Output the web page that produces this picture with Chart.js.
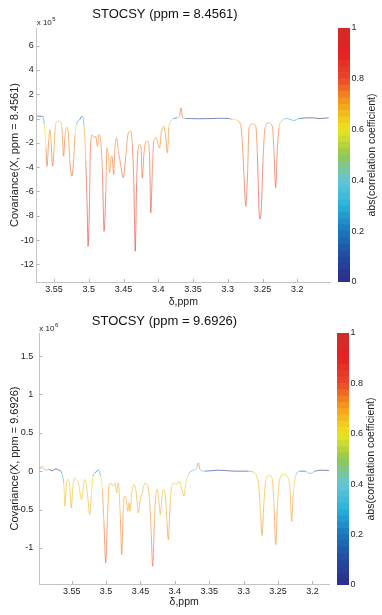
<!DOCTYPE html>
<html>
<head>
<meta charset="utf-8">
<script src="https://cdn.jsdelivr.net/npm/chart.js@4.4.1/dist/chart.umd.min.js"></script>
<style>
  html, body { margin: 0; padding: 0; background: #fff; }
  #wrap { position: relative; width: 382px; height: 615px; overflow: hidden; }
  #wrap canvas { position: absolute; }
</style>
</head>
<body>
<div id="wrap">
  <canvas id="top-spec" width="382" height="308" style="left:0;top:0"></canvas>
  <canvas id="top-cb" width="52" height="308" style="left:330px;top:0"></canvas>
  <canvas id="bot-spec" width="382" height="307" style="left:0;top:308px"></canvas>
  <canvas id="bot-cb" width="52" height="307" style="left:330px;top:308px"></canvas>
</div>
<script>
// ---- top panel: driver peak ppm = 8.4561 (covariance in units of 1e5)
const topPpm = [
  3.575, 3.5688, 3.5655, 3.5641, 3.5617, 3.5602, 3.5578, 3.5559, 3.5541, 3.5521,
  3.5502, 3.5484, 3.5449, 3.5416, 3.5388, 3.5363, 3.5345, 3.5320, 3.5297, 3.5273,
  3.5244, 3.5220, 3.5197, 3.5177, 3.5130, 3.5101, 3.5068, 3.5044, 3.5025, 3.5011,
  3.4991, 3.4976, 3.4948, 3.4919, 3.4900, 3.4876, 3.4853, 3.4829, 3.4804, 3.4781,
  3.4757, 3.4739, 3.4718, 3.4700, 3.4681, 3.4667, 3.4643, 3.4624, 3.4600, 3.4575,
  3.4557, 3.4538, 3.4504, 3.4471, 3.4432, 3.4399, 3.4375, 3.4352, 3.4332, 3.4313,
  3.4294, 3.4270, 3.4251, 3.4231, 3.4208, 3.4184, 3.4155, 3.4127, 3.4108, 3.4088,
  3.4065, 3.4031, 3.4002, 3.3983, 3.3955, 3.3922, 3.3898, 3.3869, 3.3850, 3.3822,
  3.3779, 3.3730, 3.3697, 3.3673, 3.3650, 3.3611, 3.3554, 3.3411, 3.3220, 3.3124,
  3.2981, 3.2933, 3.2862, 3.2813, 3.2790, 3.2766, 3.2741, 3.2718, 3.2694, 3.2647,
  3.2598, 3.2575, 3.2551, 3.2537, 3.2518, 3.2494, 3.2465, 3.2418, 3.2360, 3.2336,
  3.2312, 3.2289, 3.2264, 3.2217, 3.2146, 3.2050, 3.1978, 3.1787, 3.1691, 3.1548
];
const topCov = [
  0.19, 0.19, 0.11, -0.49, -2.41, -3.93, -1.87, -0.91, -2.14, -3.93,
  -2.69, -0.77, -0.22, -0.22, -0.77, -3.10, -1.59, -0.72, -1.05, -3.51,
  -4.75, -3.51, -1.32, -0.49, -0.08, 0.19, -0.63, -3.51, -7.08, -10.51,
  -7.08, -2.14, -1.37, -1.59, -1.46, -2.28, -1.32, -1.87, -4.34, -9.28,
  -6.26, -2.41, -3.10, -4.47, -3.23, -3.10, -4.61, -2.41, -1.59, -2.69,
  -3.23, -3.93, -4.88, -3.23, -1.18, -1.05, -2.14, -5.43, -10.92, -5.43,
  -2.69, -2.14, -2.28, -4.88, -2.96, -2.00, -1.87, -2.96, -7.76, -4.61,
  -1.87, -1.59, -2.14, -2.41, -1.05, -0.63, -1.32, -2.82, -0.77, -0.22,
  0, 0.06, 0.19, 0.88, 0.08, 0, 0, -0.02, 0, 0.02,
  0, -0.06, -0.16, -0.63, -2.14, -4.88, -7.22, -4.86, -0.77, -0.44,
  -0.63, -2.96, -7.63, -8.27, -7.33, -3.51, -0.77, -0.35, -0.63, -2.69,
  -5.70, -2.69, -0.77, -0.16, 0, -0.16, 0, 0.06, 0, 0.06
];
const topCorr = [
  0.03, 0.03, 0.1, 0.45, 0.74, 0.78, 0.74, 0.7, 0.74, 0.78,
  0.74, 0.68, 0.64, 0.64, 0.7, 0.78, 0.74, 0.7, 0.72, 0.76,
  0.79, 0.76, 0.72, 0.45, 0.1, 0.03, 0.6, 0.78, 0.82, 0.86,
  0.82, 0.76, 0.74, 0.74, 0.74, 0.76, 0.72, 0.72, 0.78, 0.84,
  0.8, 0.7, 0.68, 0.72, 0.72, 0.74, 0.76, 0.74, 0.72, 0.74,
  0.76, 0.76, 0.78, 0.76, 0.72, 0.72, 0.76, 0.8, 0.86, 0.8,
  0.76, 0.74, 0.74, 0.78, 0.76, 0.74, 0.74, 0.76, 0.82, 0.78,
  0.74, 0.72, 0.74, 0.74, 0.72, 0.7, 0.72, 0.76, 0.7, 0.6,
  0.2, 0.1, 0.72, 0.82, 0.74, 0.1, 0.03, 0.03, 0.03, 0.03,
  0.05, 0.5, 0.7, 0.74, 0.76, 0.78, 0.8, 0.78, 0.74, 0.72,
  0.74, 0.78, 0.82, 0.84, 0.82, 0.78, 0.74, 0.72, 0.74, 0.78,
  0.8, 0.78, 0.74, 0.6, 0.1, 0.5, 0.05, 0.03, 0.03, 0.03
];
const topYTicks = [-12, -10, -8, -6, -4, -2, 0, 2, 4, 6];

// ---- bottom panel: driver peak ppm = 9.6926 (covariance in units of 1e6)
const botPpm = [
  3.597, 3.5926, 3.5877, 3.5829, 3.5781, 3.5732, 3.5684, 3.5644, 3.5615, 3.5596,
  3.5578, 3.5548, 3.5524, 3.5505, 3.5485, 3.5461, 3.5432, 3.5403, 3.5378, 3.5354,
  3.5330, 3.5306, 3.5272, 3.5237, 3.5214, 3.5190, 3.5160, 3.5112, 3.5078, 3.5054,
  3.5030, 3.5005, 3.4982, 3.4957, 3.4928, 3.4899, 3.4870, 3.4845, 3.4822, 3.4793,
  3.4772, 3.4753, 3.4735, 3.4705, 3.4685, 3.4666, 3.4652, 3.4627, 3.4594, 3.4560,
  3.4531, 3.4502, 3.4473, 3.4434, 3.4400, 3.4365, 3.4342, 3.4322, 3.4298, 3.4278,
  3.4255, 3.4230, 3.4211, 3.4191, 3.4168, 3.4143, 3.4114, 3.4095, 3.4070, 3.4046,
  3.4012, 3.3979, 3.3940, 3.3900, 3.3867, 3.3842, 3.3804, 3.3732, 3.3682, 3.3659,
  3.3634, 3.3562, 3.3368, 3.3126, 3.2932, 3.2860, 3.2810, 3.2777, 3.2752, 3.2733,
  3.2709, 3.2680, 3.2631, 3.2583, 3.2559, 3.2534, 3.2511, 3.2482, 3.2424, 3.2374,
  3.2326, 3.2302, 3.2278, 3.2243, 3.2181, 3.2108, 3.2035, 3.1963, 3.1861, 3.1759
];
const botCov = [
  0.03, 0.056, 0.013, 0.022, 0.004, 0.03, 0.013, -0.022, -0.153, -0.457,
  -0.196, -0.108, -0.239, -0.479, -0.239, -0.087, -0.108, -0.153, -0.283, -0.369,
  -0.196, -0.108, -0.283, -0.565, -0.326, -0.065, -0.022, 0.013, -0.065, -0.239,
  -0.675, -1.197, -0.675, -0.196, -0.153, -0.196, -0.153, -0.283, -0.153, -0.587,
  -1.087, -0.587, -0.326, -0.369, -0.522, -0.413, -0.522, -0.283, -0.174, -0.283,
  -0.544, -0.369, -0.283, -0.153, -0.174, -0.413, -0.849, -1.240, -0.675, -0.326,
  -0.239, -0.413, -0.565, -0.369, -0.239, -0.283, -0.675, -0.892, -0.457, -0.196,
  -0.153, -0.174, -0.131, -0.239, -0.326, -0.157, -0.043, 0.013, 0.043, 0.108,
  0.022, 0, 0.013, 0, 0, -0.013, -0.065, -0.239, -0.587, -0.839,
  -0.457, -0.131, -0.056, -0.108, -0.457, -0.957, -0.496, -0.131, -0.043, -0.065,
  -0.239, -0.653, -0.283, -0.056, 0, 0, -0.030, 0, 0.013, 0.009
];
const botCorr = [
  0.8, 0.8, 0.6, 0.1, 0.03, 0.03, 0.03, 0.1, 0.6, 0.69,
  0.66, 0.64, 0.66, 0.69, 0.66, 0.64, 0.64, 0.64, 0.66, 0.68,
  0.66, 0.64, 0.66, 0.7, 0.66, 0.5, 0.1, 0.1, 0.5, 0.7,
  0.74, 0.8, 0.74, 0.68, 0.66, 0.66, 0.66, 0.68, 0.66, 0.72,
  0.76, 0.72, 0.68, 0.68, 0.7, 0.68, 0.7, 0.67, 0.66, 0.67,
  0.7, 0.68, 0.67, 0.66, 0.66, 0.7, 0.74, 0.78, 0.74, 0.68,
  0.67, 0.68, 0.7, 0.68, 0.67, 0.67, 0.72, 0.74, 0.7, 0.66,
  0.66, 0.66, 0.66, 0.67, 0.69, 0.66, 0.5, 0.1, 0.7, 0.8,
  0.7, 0.05, 0.03, 0.03, 0.05, 0.6, 0.66, 0.68, 0.7, 0.74,
  0.7, 0.66, 0.64, 0.66, 0.7, 0.74, 0.7, 0.66, 0.64, 0.64,
  0.68, 0.72, 0.68, 0.6, 0.1, 0.05, 0.6, 0.05, 0.03, 0.03
];
const botYTicks = [-1, -0.5, 0, 0.5, 1, 1.5];

const xTickVals = [3.55, 3.5, 3.45, 3.4, 3.35, 3.3, 3.25, 3.2];
const cbTicks = [0, 0.2, 0.4, 0.6, 0.8, 1];

// colormap for abs(correlation coefficient)
const cmapStops = [
  [0.0, 44, 44, 138],
  [0.1, 34, 74, 160],
  [0.2, 26, 120, 190],
  [0.3, 40, 178, 220],
  [0.4, 100, 198, 214],
  [0.5, 146, 200, 80],
  [0.6, 238, 228, 30],
  [0.7, 247, 160, 28],
  [0.8, 232, 72, 42],
  [0.9, 228, 32, 36],
  [1.0, 208, 45, 40]
];

function cmapColor(v, a) {
  v = Math.max(0, Math.min(1, v));
  let i = 0;
  while (i < cmapStops.length - 2 && v > cmapStops[i + 1][0]) i++;
  const s0 = cmapStops[i], s1 = cmapStops[i + 1];
  const t = (v - s0[0]) / (s1[0] - s0[0]);
  const c = [1, 2, 3].map(k => Math.round(s0[k] + (s1[k] - s0[k]) * t));
  return `rgba(${c[0]}, ${c[1]}, ${c[2]}, ${a === undefined ? 1 : a})`;
}

Chart.defaults.font.family = '"Liberation Sans", Arial, Helvetica, sans-serif';
Chart.defaults.color = "#222";

// small MATLAB-like tick marks pointing into the axes
const inTicks = {
  id: "inTicks",
  afterDraw(chart) {
    const { ctx, chartArea: a, scales } = chart;
    const x = scales.x, y = scales.y;
    ctx.save();
    ctx.strokeStyle = "#b4b4b4";
    ctx.lineWidth = 1;
    x.ticks.forEach(t => {
      const px = Math.round(x.getPixelForValue(t.value)) + 0.5;
      ctx.beginPath();
      ctx.moveTo(px, a.bottom);
      ctx.lineTo(px, a.bottom - 3);
      ctx.stroke();
    });
    y.ticks.forEach(t => {
      const py = Math.round(y.getPixelForValue(t.value)) + 0.5;
      ctx.beginPath();
      ctx.moveTo(a.left, py);
      ctx.lineTo(a.left + 3, py);
      ctx.stroke();
    });
    ctx.restore();
  }
};

// "x 10^n" exponent label above the y axis
const expLabel = {
  id: "expLabel",
  afterDraw(chart, args, opts) {
    const { ctx, chartArea: a } = chart;
    ctx.save();
    ctx.fillStyle = "#222";
    ctx.textBaseline = "alphabetic";
    ctx.font = '8px "Liberation Sans", Arial, sans-serif';
    const base = "x 10";
    ctx.fillText(base, a.left + opts.dx, a.top + opts.dy);
    const w = ctx.measureText(base).width;
    ctx.font = '6px "Liberation Sans", Arial, sans-serif';
    ctx.fillText(opts.exp, a.left + opts.dx + w + 0.5, a.top + opts.dy - 4);
    ctx.restore();
  }
};

// rotated colorbar label, reading bottom-to-top
const cbLabel = {
  id: "cbLabel",
  afterDraw(chart, args, opts) {
    const { ctx, chartArea: a } = chart;
    ctx.save();
    ctx.translate(a.right + opts.dx, (a.top + a.bottom) / 2);
    ctx.rotate(-Math.PI / 2);
    ctx.fillStyle = "#222";
    ctx.font = '10.5px "Liberation Sans", Arial, sans-serif';
    ctx.textAlign = "center";
    ctx.textBaseline = "middle";
    ctx.fillText(opts.text, 0, 0);
    ctx.restore();
  }
};

function makeSpectrum(id, P) {
  const ctx = document.getElementById(id).getContext("2d");
  return new Chart(ctx, {
    type: "line",
    data: {
      datasets: [
        {
          data: P.ppm.map((x, i) => ({ x: x, y: P.cov[i] })),
          borderWidth: 1,
          pointRadius: 0,
          cubicInterpolationMode: "monotone",
          borderColor: cmapColor(0.7, 0.6),
          segment: {
            borderColor: c =>
              cmapColor((P.corr[c.p0DataIndex] + P.corr[c.p1DataIndex]) / 2, 0.6),
          },
        },
      ],
    },
    options: {
      responsive: false,
      animation: false,
      layout: { padding: { left: 0, right: P.padRight, top: 0, bottom: 0 } },
      plugins: {
        legend: { display: false },
        tooltip: { enabled: false },
        title: {
          display: true,
          text: P.title,
          color: "#111",
          font: { size: 13, weight: "normal" },
          padding: { top: P.titleTop, bottom: P.titleBottom },
        },
        expLabel: { exp: P.exp, dx: 0, dy: P.expDy },
      },
      scales: {
        x: {
          type: "linear",
          reverse: true,
          min: P.xMin,
          max: P.xMax,
          afterBuildTicks: s => {
            s.ticks = xTickVals.map(v => ({ value: v }));
          },
          afterFit: s => {
            s.height = P.xAxisH;
          },
          grid: { display: false, drawTicks: false },
          border: { display: true, color: "#c4c4c4", width: 1 },
          ticks: {
            padding: 2,
            font: { size: 9 },
            maxRotation: 0,
            autoSkip: false,
            callback: v => String(+v.toFixed(2)),
          },
          title: {
            display: true,
            text: "δ,ppm",
            font: { size: 10.5 },
            padding: { top: 0, bottom: P.xTitlePad },
          },
        },
        y: {
          type: "linear",
          min: P.yMin,
          max: P.yMax,
          afterBuildTicks: s => {
            s.ticks = P.yTicks.map(v => ({ value: v }));
          },
          afterFit: s => {
            s.width = P.yAxisW;
          },
          grid: { display: false, drawTicks: false },
          border: { display: true, color: "#c4c4c4", width: 1 },
          ticks: {
            padding: P.yTickPad,
            font: { size: 9 },
            callback: v => String(v),
          },
          title: {
            display: true,
            text: P.yTitle,
            font: { size: 11 },
            padding: { top: 8, bottom: 0 },
          },
        },
      },
    },
    plugins: [inTicks, expLabel],
  });
}

function makeColorbar(id, P) {
  const ctx = document.getElementById(id).getContext("2d");
  const nBands = 40;
  const bands = [];
  for (let i = 0; i < nBands; i++) {
    bands.push({
      data: [1 / nBands],
      backgroundColor: cmapColor((i + 0.5) / nBands),
      borderWidth: 0,
      barPercentage: 1,
      categoryPercentage: 1,
    });
  }
  return new Chart(ctx, {
    type: "bar",
    data: { labels: [""], datasets: bands },
    options: {
      responsive: false,
      animation: false,
      layout: { padding: { left: P.cbLeft, right: 0, top: P.cbTop, bottom: P.cbBottom } },
      plugins: {
        legend: { display: false },
        tooltip: { enabled: false },
        cbLabel: { text: "abs(correlation coefficient)", dx: 21.7 },
      },
      scales: {
        x: { display: false, stacked: true },
        y: {
          position: "right",
          stacked: true,
          min: 0,
          max: 1,
          afterBuildTicks: s => {
            s.ticks = cbTicks.map(v => ({ value: v }));
          },
          afterFit: s => {
            s.width = P.cbAxisW;
          },
          grid: { display: false, drawTicks: false },
          border: { display: false },
          ticks: { padding: 1.5, font: { size: 9 }, callback: v => String(v) },
        },
      },
    },
    plugins: [cbLabel],
  });
}

makeSpectrum("top-spec", {
  ppm: topPpm, cov: topCov, corr: topCorr, yTicks: topYTicks,
  title: "STOCSY (ppm = 8.4561)",
  yTitle: "Covariance(X, ppm = 8.4561)",
  exp: "5", expDy: -3,
  xMin: 3.153, xMax: 3.575, yMin: -13.45, yMax: 7.45,
  padRight: 52, titleTop: 7, titleBottom: 5.4,
  xAxisH: 26, xTitlePad: 0, yAxisW: 36.7, yTickPad: 3,
});
makeColorbar("top-cb", { cbLeft: 8, cbTop: 28, cbBottom: 26, cbAxisW: 32 });

makeSpectrum("bot-spec", {
  ppm: botPpm, cov: botCov, corr: botCorr, yTicks: botYTicks,
  title: "STOCSY (ppm = 9.6926)",
  yTitle: "Covariance(X, ppm = 9.6926)",
  exp: "6", expDy: -2.5,
  xMin: 3.176, xMax: 3.597, yMin: -1.47, yMax: 1.8,
  padRight: 53, titleTop: 6, titleBottom: 3.4,
  xAxisH: 31, xTitlePad: 6.7, yAxisW: 39.3, yTickPad: 6,
});
makeColorbar("bot-cb", { cbLeft: 7, cbTop: 25, cbBottom: 30, cbAxisW: 33 });
</script>
</body>
</html>
